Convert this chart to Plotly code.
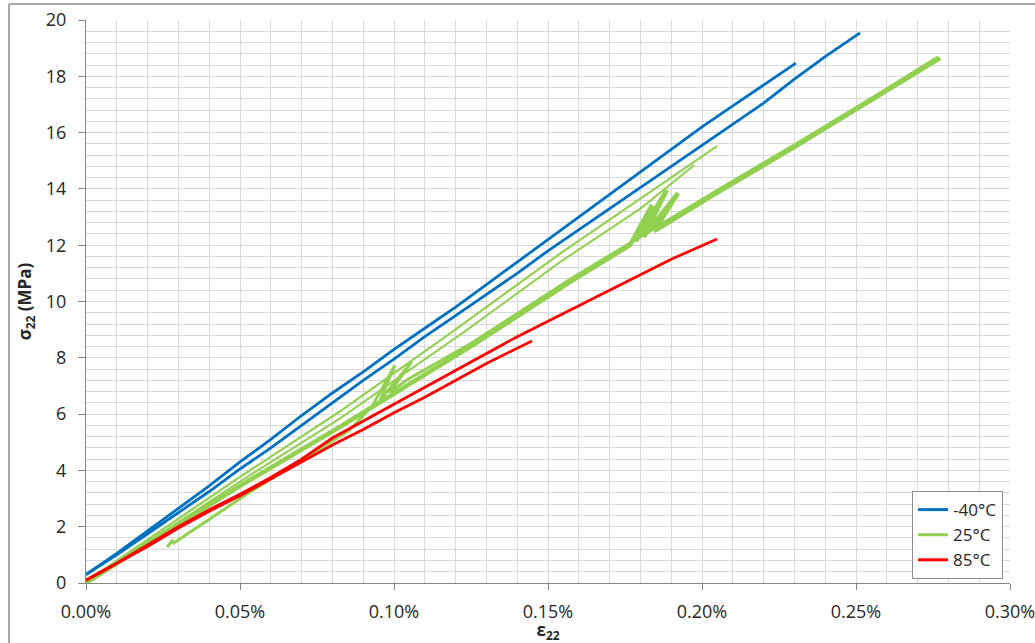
import plotly.graph_objects as go

# ---- data (strain in %, stress in MPa) ----
b1_x = [0, 0.01, 0.02, 0.03, 0.04, 0.05, 0.06, 0.07, 0.08, 0.09, 0.10, 0.11, 0.12, 0.13, 0.14, 0.15, 0.16, 0.17, 0.18, 0.19, 0.20, 0.21, 0.22, 0.2305]
b1_y = [0.30, 1.05, 1.85, 2.65, 3.45, 4.30, 5.10, 5.95, 6.75, 7.50, 8.30, 9.05, 9.80, 10.60, 11.40, 12.20, 13.00, 13.80, 14.60, 15.40, 16.20, 16.95, 17.70, 18.47]

b2_x = [0, 0.01, 0.02, 0.03, 0.04, 0.05, 0.06, 0.07, 0.08, 0.09, 0.10, 0.11, 0.12, 0.13, 0.14, 0.15, 0.16, 0.17, 0.18, 0.19, 0.20, 0.21, 0.22, 0.23, 0.24, 0.2513]
b2_y = [0.30, 1.00, 1.75, 2.50, 3.25, 4.05, 4.80, 5.60, 6.40, 7.20, 7.95, 8.75, 9.50, 10.25, 11.00, 11.80, 12.55, 13.30, 14.05, 14.80, 15.55, 16.30, 17.05, 17.90, 18.70, 19.54]

g1_x = [0, 0.025, 0.05, 0.0825, 0.1198, 0.1539, 0.18, 0.2049]
g1_y = [0.05, 1.90, 3.77, 6.10, 8.99, 11.70, 13.65, 15.52]

g2_x = [0, 0.025, 0.05, 0.0825, 0.1237, 0.1539, 0.18, 0.1975]
g2_y = [0.00, 1.80, 3.60, 5.85, 8.99, 11.40, 13.30, 14.85]

g3_x = [0, 0.025, 0.05, 0.0825, 0.1256, 0.1581, 0.1766, 0.1838, 0.1785, 0.1886, 0.1810, 0.1922, 0.1845, 0.2058, 0.2302, 0.2550, 0.2773]
g3_y = [0.00, 1.75, 3.45, 5.55, 8.45, 10.76, 12.00, 13.43, 12.15, 13.96, 12.30, 13.85, 12.50, 13.92, 15.50, 17.15, 18.65]

g4_x = [0.0263, 0.028, 0.0285, 0.0542, 0.0857, 0.093, 0.1003, 0.0955, 0.1058, 0.0985, 0.1040, 0.1256, 0.1581, 0.2058, 0.2302, 0.2550, 0.2765]
g4_y = [1.28, 1.50, 1.42, 3.30, 5.44, 6.30, 7.74, 6.50, 7.86, 6.75, 7.20, 8.55, 10.85, 14.00, 15.58, 17.22, 18.68]

r1_x = [0, 0.01, 0.02, 0.03, 0.04, 0.05, 0.06, 0.07, 0.08, 0.09, 0.10, 0.11, 0.12, 0.13, 0.1448]
r1_y = [0.10, 0.70, 1.30, 1.95, 2.55, 3.10, 3.70, 4.30, 4.90, 5.45, 6.05, 6.60, 7.20, 7.80, 8.60]

r2_x = [0, 0.01, 0.02, 0.03, 0.04, 0.05, 0.06, 0.07, 0.08, 0.09, 0.10, 0.11, 0.12, 0.13, 0.14, 0.15, 0.16, 0.17, 0.18, 0.19, 0.2049]
r2_y = [0.10, 0.70, 1.35, 2.00, 2.60, 3.15, 3.75, 4.40, 5.15, 5.75, 6.35, 6.95, 7.55, 8.15, 8.75, 9.30, 9.85, 10.40, 10.95, 11.50, 12.22]

names = ["-40°C", "25°C", "85°C"]
colors = ["#0070C0", "#92D050", "#FF0000"]

series = [
    (b1_x, b1_y, 0, 2.8),
    (b2_x, b2_y, 0, 2.8),
    (g3_x, g3_y, 1, 4.5),
    (g4_x, g4_y, 1, 3.0),
    (g2_x, g2_y, 1, 2.0),
    (g1_x, g1_y, 1, 2.2),
    (r1_x, r1_y, 2, 2.8),
    (r2_x, r2_y, 2, 2.8),
]

fig = go.Figure()
for i in range(3):
    fig.add_trace(go.Scatter(x=[None], y=[None], mode="lines", name=names[i],
                             line=dict(color=colors[i], width=3), legendgroup=names[i]))
for xs, ys, ci, w in series:
    fig.add_trace(go.Scatter(x=xs, y=ys, mode="lines", name=names[ci], showlegend=False,
                             legendgroup=names[ci], line=dict(color=colors[ci], width=w)))

grid = "#d9d9d9"
axcol = "#868686"
txt = "#262626"
fig.update_layout(
    width=1035, height=643,
    margin=dict(l=86, r=25, t=20, b=60),
    plot_bgcolor="white", paper_bgcolor="white",
    font=dict(family="Open Sans", size=18, color=txt),
    showlegend=True,
    legend=dict(x=0.9924, y=0.007, xanchor="right", yanchor="bottom",
                bgcolor="white", bordercolor="#8c8c8c", borderwidth=1,
                font=dict(size=17, color=txt), tracegroupgap=0),
    xaxis=dict(range=[0, 0.30], dtick=0.05, tick0=0, tickformat=".2f", ticksuffix="%",
               automargin=False, ticklabeloverflow="allow",
               showgrid=True, gridcolor=grid, gridwidth=1,
               minor=dict(dtick=0.01, showgrid=True, gridcolor=grid, gridwidth=1),
               showline=True, linecolor=axcol, linewidth=1.2, zeroline=False,
               ticks="outside", ticklen=6, tickcolor=axcol, ticklabelstandoff=6,
               title=dict(text="<b>ε<sub>22</sub></b>", font=dict(size=17, color=txt), standoff=4)),
    yaxis=dict(range=[0, 20], dtick=2, tick0=0, automargin=False,
               showgrid=True, gridcolor=grid, gridwidth=1,
               minor=dict(dtick=0.4, showgrid=True, gridcolor=grid, gridwidth=1),
               showline=True, linecolor=axcol, linewidth=1.2, zeroline=False,
               ticks="outside", ticklen=7, tickcolor=axcol, ticklabelstandoff=8,
               title=dict(text="<b>σ<sub>22</sub> (MPa)</b>", font=dict(size=17, color=txt), standoff=9)),
    shapes=[
        dict(type="line", xref="paper", yref="paper", x0=-0.0833, x1=-0.0833, y0=-0.2, y1=1.0284,
             line=dict(color="#8c8c8c", width=1.5)),
        dict(type="line", xref="paper", yref="paper", x0=-0.0833, x1=1.2, y0=1.0284, y1=1.0284,
             line=dict(color="#8c8c8c", width=1.5)),
    ],
)

fig.write_html("out.html", config={"displayModeBar": False},
               post_script="document.body.style.margin='0';document.body.style.overflow='hidden';")
